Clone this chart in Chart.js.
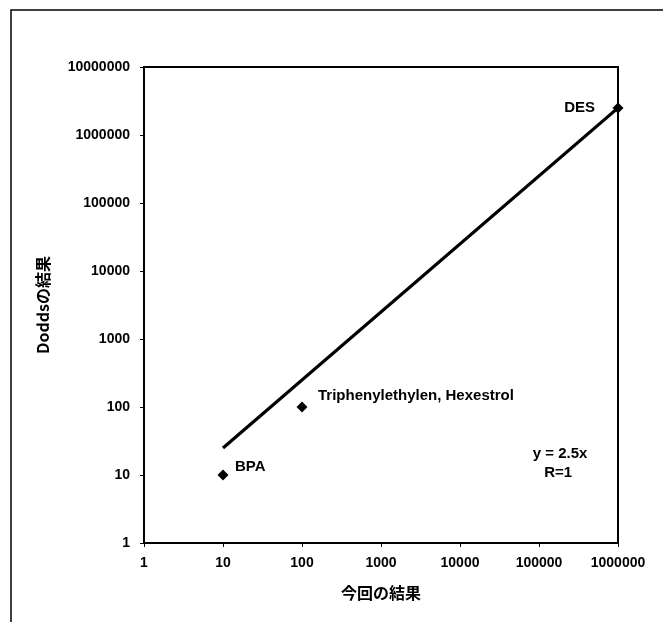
<!DOCTYPE html>
<html>
<head>
<meta charset="utf-8">
<script src="https://cdn.jsdelivr.net/npm/chart.js@4/dist/chart.umd.min.js"></script>
<style>
  html, body { margin: 0; padding: 0; background: #fff; }
  #wrap { width: 663px; height: 622px; position: relative; }
</style>
</head>
<body>
<div id="wrap"><canvas id="c" width="663" height="622"></canvas></div>
<script>
// Compounds compared: this study's result (x) vs. Dodds' result (y)
const compounds = ['BPA', 'Triphenylethylen, Hexestrol', 'DES'];
const thisStudy = [10, 100, 1000000];
const doddsResult = [10, 100, 2500000];

// Fitted line y = 2.5x, drawn over the data range
const fitX = [10, 1000000];
const fitSlope = 2.5;
const fitText = ['y = 2.5x', 'R=1'];

const xTicks = [1, 10, 100, 1000, 10000, 100000, 1000000];
const yTicks = [1, 10, 100, 1000, 10000, 100000, 1000000, 10000000];

const xTitle = '今回の結果';
const yTitle = 'Doddsの結果';

const FONT = '"Liberation Sans", Arial, sans-serif';
const JFONT = '"Noto Sans CJK JP", "Liberation Sans", sans-serif';

// Per-point label offsets (px) and alignment
const labelPlace = [
  { dx: 12, dy: -8, align: 'left' },
  { dx: 16, dy: -11, align: 'left' },
  { dx: -23, dy: 0, align: 'right' }
];

const decorations = {
  id: 'decorations',
  afterDraw(chart) {
    const ctx = chart.ctx;
    const xs = chart.scales.x, ys = chart.scales.y;
    const a = chart.chartArea;
    ctx.save();
    // outer frame (left and top edges visible)
    ctx.strokeStyle = '#000';
    ctx.lineWidth = 1.5;
    ctx.beginPath();
    ctx.moveTo(11, 640);
    ctx.lineTo(11, 10);
    ctx.lineTo(680, 10);
    ctx.stroke();

    // plot frame top and right edges
    ctx.lineWidth = 2;
    ctx.beginPath();
    ctx.moveTo(a.left, a.top);
    ctx.lineTo(a.right, a.top);
    ctx.lineTo(a.right, a.bottom);
    ctx.stroke();

    ctx.fillStyle = '#000';
    // point labels
    ctx.font = 'bold 15px ' + FONT;
    ctx.textBaseline = 'middle';
    compounds.forEach((name, i) => {
      const px = xs.getPixelForValue(thisStudy[i]);
      const py = ys.getPixelForValue(doddsResult[i]);
      const p = labelPlace[i];
      ctx.textAlign = p.align;
      ctx.fillText(name, px + p.dx, py + p.dy);
    });
    // fit equation
    ctx.textAlign = 'center';
    const ex = xs.getPixelForValue(185000);
    ctx.fillText(fitText[0], ex, ys.getPixelForValue(20.4));
    ctx.fillText(fitText[1], ex - 2, ys.getPixelForValue(10.7));

    // axis titles
    ctx.font = 'bold 16px ' + JFONT;
    ctx.textAlign = 'center';
    ctx.fillText(xTitle, (a.left + a.right) / 2, 593);
    ctx.translate(43, 305);
    ctx.rotate(-Math.PI / 2);
    ctx.fillText(yTitle, 0, 0);
    ctx.restore();
  }
};

const tickLabel = (v) => {
  const lg = Math.log10(v);
  return Math.abs(lg - Math.round(lg)) < 1e-9 ? String(Math.round(v)) : null;
};

new Chart(document.getElementById('c'), {
  type: 'scatter',
  data: {
    datasets: [
      {
        label: 'fit',
        type: 'line',
        data: fitX.map(x => ({ x: x, y: fitSlope * x })),
        borderColor: '#000',
        borderWidth: 3.2,
        pointRadius: 0,
        fill: false
      },
      {
        label: 'compounds',
        data: thisStudy.map((x, i) => ({ x: x, y: doddsResult[i] })),
        pointStyle: 'rectRot',
        pointRadius: 5.5,
        backgroundColor: '#000',
        borderColor: '#000',
        borderWidth: 0,
        clip: false
      }
    ]
  },
  options: {
    responsive: false,
    animation: false,
    layout: { padding: { left: 0, top: 67, right: 45, bottom: 0 } },
    plugins: { legend: { display: false }, tooltip: { enabled: false } },
    scales: {
      x: {
        type: 'logarithmic',
        min: 1, max: 1000000,
        afterBuildTicks: s => { s.ticks = xTicks.map(v => ({ value: v })); },
        afterFit: s => { s.height = 79; },
        grid: { display: true, drawOnChartArea: false, drawTicks: true, tickLength: 4, color: '#000', lineWidth: 1 },
        border: { display: true, color: '#000', width: 2 },
        ticks: { callback: tickLabel, color: '#000', font: { family: FONT, size: 14, weight: 'bold' }, padding: 8, maxRotation: 0, autoSkip: false }
      },
      y: {
        type: 'logarithmic',
        min: 1, max: 10000000,
        afterBuildTicks: s => { s.ticks = yTicks.map(v => ({ value: v })); },
        afterFit: s => { s.width = 144; },
        grid: { display: true, drawOnChartArea: false, drawTicks: true, tickLength: 4, color: '#000', lineWidth: 1 },
        border: { display: true, color: '#000', width: 2 },
        ticks: { callback: tickLabel, color: '#000', font: { family: FONT, size: 14, weight: 'bold' }, padding: 10, autoSkip: false }
      }
    }
  },
  plugins: [decorations]
});
</script>
</body>
</html>
